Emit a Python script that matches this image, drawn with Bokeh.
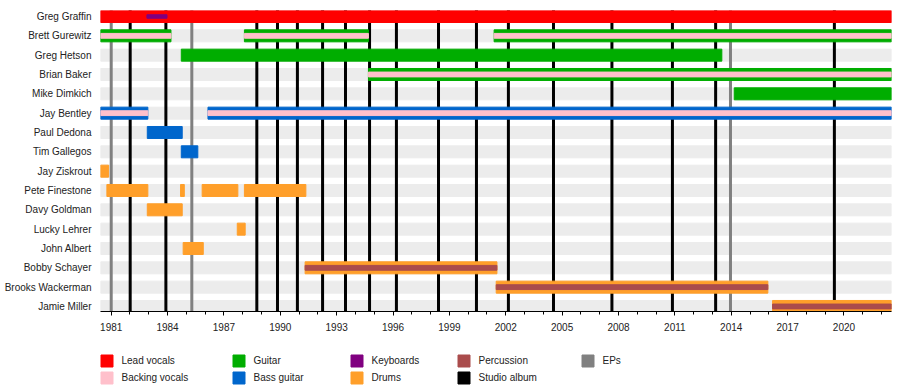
from bokeh.plotting import figure
from bokeh.layouts import column
from bokeh.models import Range1d, FixedTicker, Legend, LegendItem
from bokeh.embed import file_html
from bokeh.resources import INLINE

# ---------------- data ----------------
members = ["Greg Graffin", "Brett Gurewitz", "Greg Hetson", "Brian Baker", "Mike Dimkich",
           "Jay Bentley", "Paul Dedona", "Tim Gallegos", "Jay Ziskrout", "Pete Finestone",
           "Davy Goldman", "Lucky Lehrer", "John Albert", "Bobby Schayer", "Brooks Wackerman",
           "Jamie Miller"]

START = 1980.43
END = 2022.53

lead_who = ["Greg Graffin"]
lead_from = [START]
lead_to = [END]

keys_who = ["Greg Graffin"]
keys_from = [1982.90]
keys_to = [1983.97]

guitar_who = ["Brett Gurewitz", "Brett Gurewitz", "Brett Gurewitz", "Greg Hetson", "Brian Baker", "Mike Dimkich"]
guitar_from = [START, 1988.09, 2001.38, 1984.73, 1994.69, 2014.16]
guitar_to = [1984.18, 1994.69, END, 2013.50, END, END]

backing_who = ["Brett Gurewitz", "Brett Gurewitz", "Brett Gurewitz", "Brian Baker", "Jay Bentley", "Jay Bentley"]
backing_from = [START, 1988.09, 2001.38, 1994.69, START, 1986.15]
backing_to = [1984.18, 1994.69, END, END, 1982.95, END]

bass_who = ["Jay Bentley", "Jay Bentley", "Paul Dedona", "Tim Gallegos"]
bass_from = [START, 1986.15, 1982.92, 1984.73]
bass_to = [1982.95, END, 1984.78, 1985.61]

drums_who = ["Jay Ziskrout", "Pete Finestone", "Pete Finestone", "Pete Finestone", "Pete Finestone",
             "Davy Goldman", "Lucky Lehrer", "John Albert", "Bobby Schayer", "Brooks Wackerman",
             "Jamie Miller"]
drums_from = [START, 1980.77, 1984.69, 1985.84, 1988.09, 1982.92, 1987.71, 1984.83, 1991.32, 2001.49, 2016.20]
drums_to = [1980.86, 1982.95, 1984.89, 1987.74, 1991.36, 1984.78, 1988.13, 1985.90, 2001.53, 2015.95, END]

perc_who = ["Bobby Schayer", "Brooks Wackerman", "Jamie Miller"]
perc_from = [1991.32, 2001.49, 2016.20]
perc_to = [2001.53, 2015.95, END]

studio_albums = [1982.01, 1983.91, 1988.75, 1989.85, 1990.91, 1992.25, 1993.47, 1994.75,
                 1996.18, 1998.42, 2000.44, 2002.14, 2004.54, 2007.65, 2010.87, 2013.17, 2019.49]
eps = [1981.00, 1985.29, 2013.96]

year_ticks = [1981, 1984, 1987, 1990, 1993, 1996, 1999, 2002, 2005, 2008, 2011, 2014, 2017, 2020]
minor_years = list(range(1981, 2023))

legend_labels = ["Lead vocals", "Backing vocals", "Guitar", "Bass guitar", "Keyboards",
                 "Drums", "Percussion", "Studio album", "EPs"]

# colours
C_LEAD = "#FF0000"
C_BACK = "#FFC0CB"
C_GUITAR = "#00AD00"
C_BASS = "#0066CC"
C_KEYS = "#800080"
C_DRUMS = "#FF9F2A"
C_PERC = "#AA4C4C"
C_ALBUM = "#000000"
C_EP = "#808080"
C_BAND = "#ECECEC"
legend_colors = [C_LEAD, C_BACK, C_GUITAR, C_BASS, C_KEYS, C_DRUMS, C_PERC, C_ALBUM, C_EP]

FONT = "Liberation Sans"
TXT = "#222222"

n = len(members)
ypos = {m: n - 1 - i for i, m in enumerate(members)}


def ys(who):
    return [ypos[w] for w in who]


p = figure(width=900, height=335, output_backend="svg", toolbar_location=None,
           x_range=Range1d(START, END), y_range=Range1d(-0.26, n - 1 + 0.31),
           min_border_left=100, min_border_right=9, min_border_top=10, min_border_bottom=24)
p.outline_line_color = None
p.xgrid.visible = False
p.ygrid.visible = False

BAR_H = 0.62
STRIPE_H = 0.25

# row bands
rows = list(range(n))
p.hbar(y=rows, left=[START] * n, right=[END] * n, height=BAR_H, color=C_BAND)

# album / EP lines
p.segment(x0=eps, x1=eps, y0=[-1] * len(eps), y1=[n + 1] * len(eps), line_color=C_EP, line_width=3)
p.segment(x0=studio_albums, x1=studio_albums, y0=[-1] * len(studio_albums), y1=[n + 1] * len(studio_albums),
          line_color=C_ALBUM, line_width=3)

# bars
p.hbar(y=ys(lead_who), left=lead_from, right=lead_to, height=BAR_H, color=C_LEAD)
p.hbar(y=ys(guitar_who), left=guitar_from, right=guitar_to, height=BAR_H, color=C_GUITAR)
p.hbar(y=ys(bass_who), left=bass_from, right=bass_to, height=BAR_H, color=C_BASS)
p.hbar(y=ys(drums_who), left=drums_from, right=drums_to, height=BAR_H, color=C_DRUMS)
p.hbar(y=ys(backing_who), left=backing_from, right=backing_to, height=STRIPE_H, color=C_BACK)
p.hbar(y=ys(perc_who), left=perc_from, right=perc_to, height=STRIPE_H, color=C_PERC)
p.hbar(y=ys(keys_who), left=keys_from, right=keys_to, height=0.18, color=C_KEYS)

# x axis
xa = p.xaxis[0]
xa.ticker = FixedTicker(ticks=year_ticks, minor_ticks=minor_years)
xa.axis_line_color = "#000000"
xa.major_tick_line_color = "#000000"
xa.minor_tick_line_color = "#000000"
xa.major_tick_in = 0
xa.major_tick_out = 4
xa.minor_tick_in = 0
xa.minor_tick_out = 3
xa.major_label_standoff = 7
xa.major_label_text_font = FONT
xa.major_label_text_font_size = "10px"
xa.major_label_text_color = TXT

# y axis
ya = p.yaxis[0]
ya.ticker = FixedTicker(ticks=list(range(n)))
ya.major_label_overrides = {ypos[m]: m for m in members}
ya.axis_line_color = None
ya.major_tick_line_color = None
ya.minor_tick_line_color = None
ya.major_tick_in = 0
ya.major_tick_out = 0
ya.major_label_standoff = 9
ya.major_label_text_font = FONT
ya.major_label_text_font_size = "10px"
ya.major_label_text_color = TXT

# ---------------- legend figure ----------------
lf = figure(width=900, height=55, output_backend="svg", toolbar_location=None,
            x_range=Range1d(0, 1), y_range=Range1d(0, 1), x_axis_type=None, y_axis_type=None,
            min_border_left=100, min_border_right=9, min_border_top=0, min_border_bottom=0)
lf.outline_line_color = None
lf.xgrid.visible = False
lf.ygrid.visible = False

# swatch renderers (zero-size, outside the view; only used for legend glyphs)
sw = {lab: lf.hbar(y=[-1], left=[-1], right=[-1], height=0.5, color=c)
      for lab, c in zip(legend_labels, legend_colors)}

legend_cols = [legend_labels[0:2], legend_labels[2:4], legend_labels[4:6], legend_labels[6:8], legend_labels[8:9]]
col_x = [-1.5, 130.5, 248.5, 355.5, 479.5]
for names, lx in zip(legend_cols, col_x):
    items = [LegendItem(label=nm, renderers=[sw[nm]]) for nm in names]
    vy = 5 if len(names) == 2 else 22
    leg = Legend(items=items, location=(lx, vy), orientation="vertical",
                 padding=0, margin=0, spacing=2, glyph_width=15, glyph_height=15,
                 label_height=15, label_standoff=8, border_line_color=None,
                 background_fill_alpha=0, label_text_font=FONT,
                 label_text_font_size="10px", label_text_color=TXT)
    lf.add_layout(leg, "center")

layout = column(p, lf, spacing=0)
open("out.html", "w").write(file_html(layout, INLINE))
